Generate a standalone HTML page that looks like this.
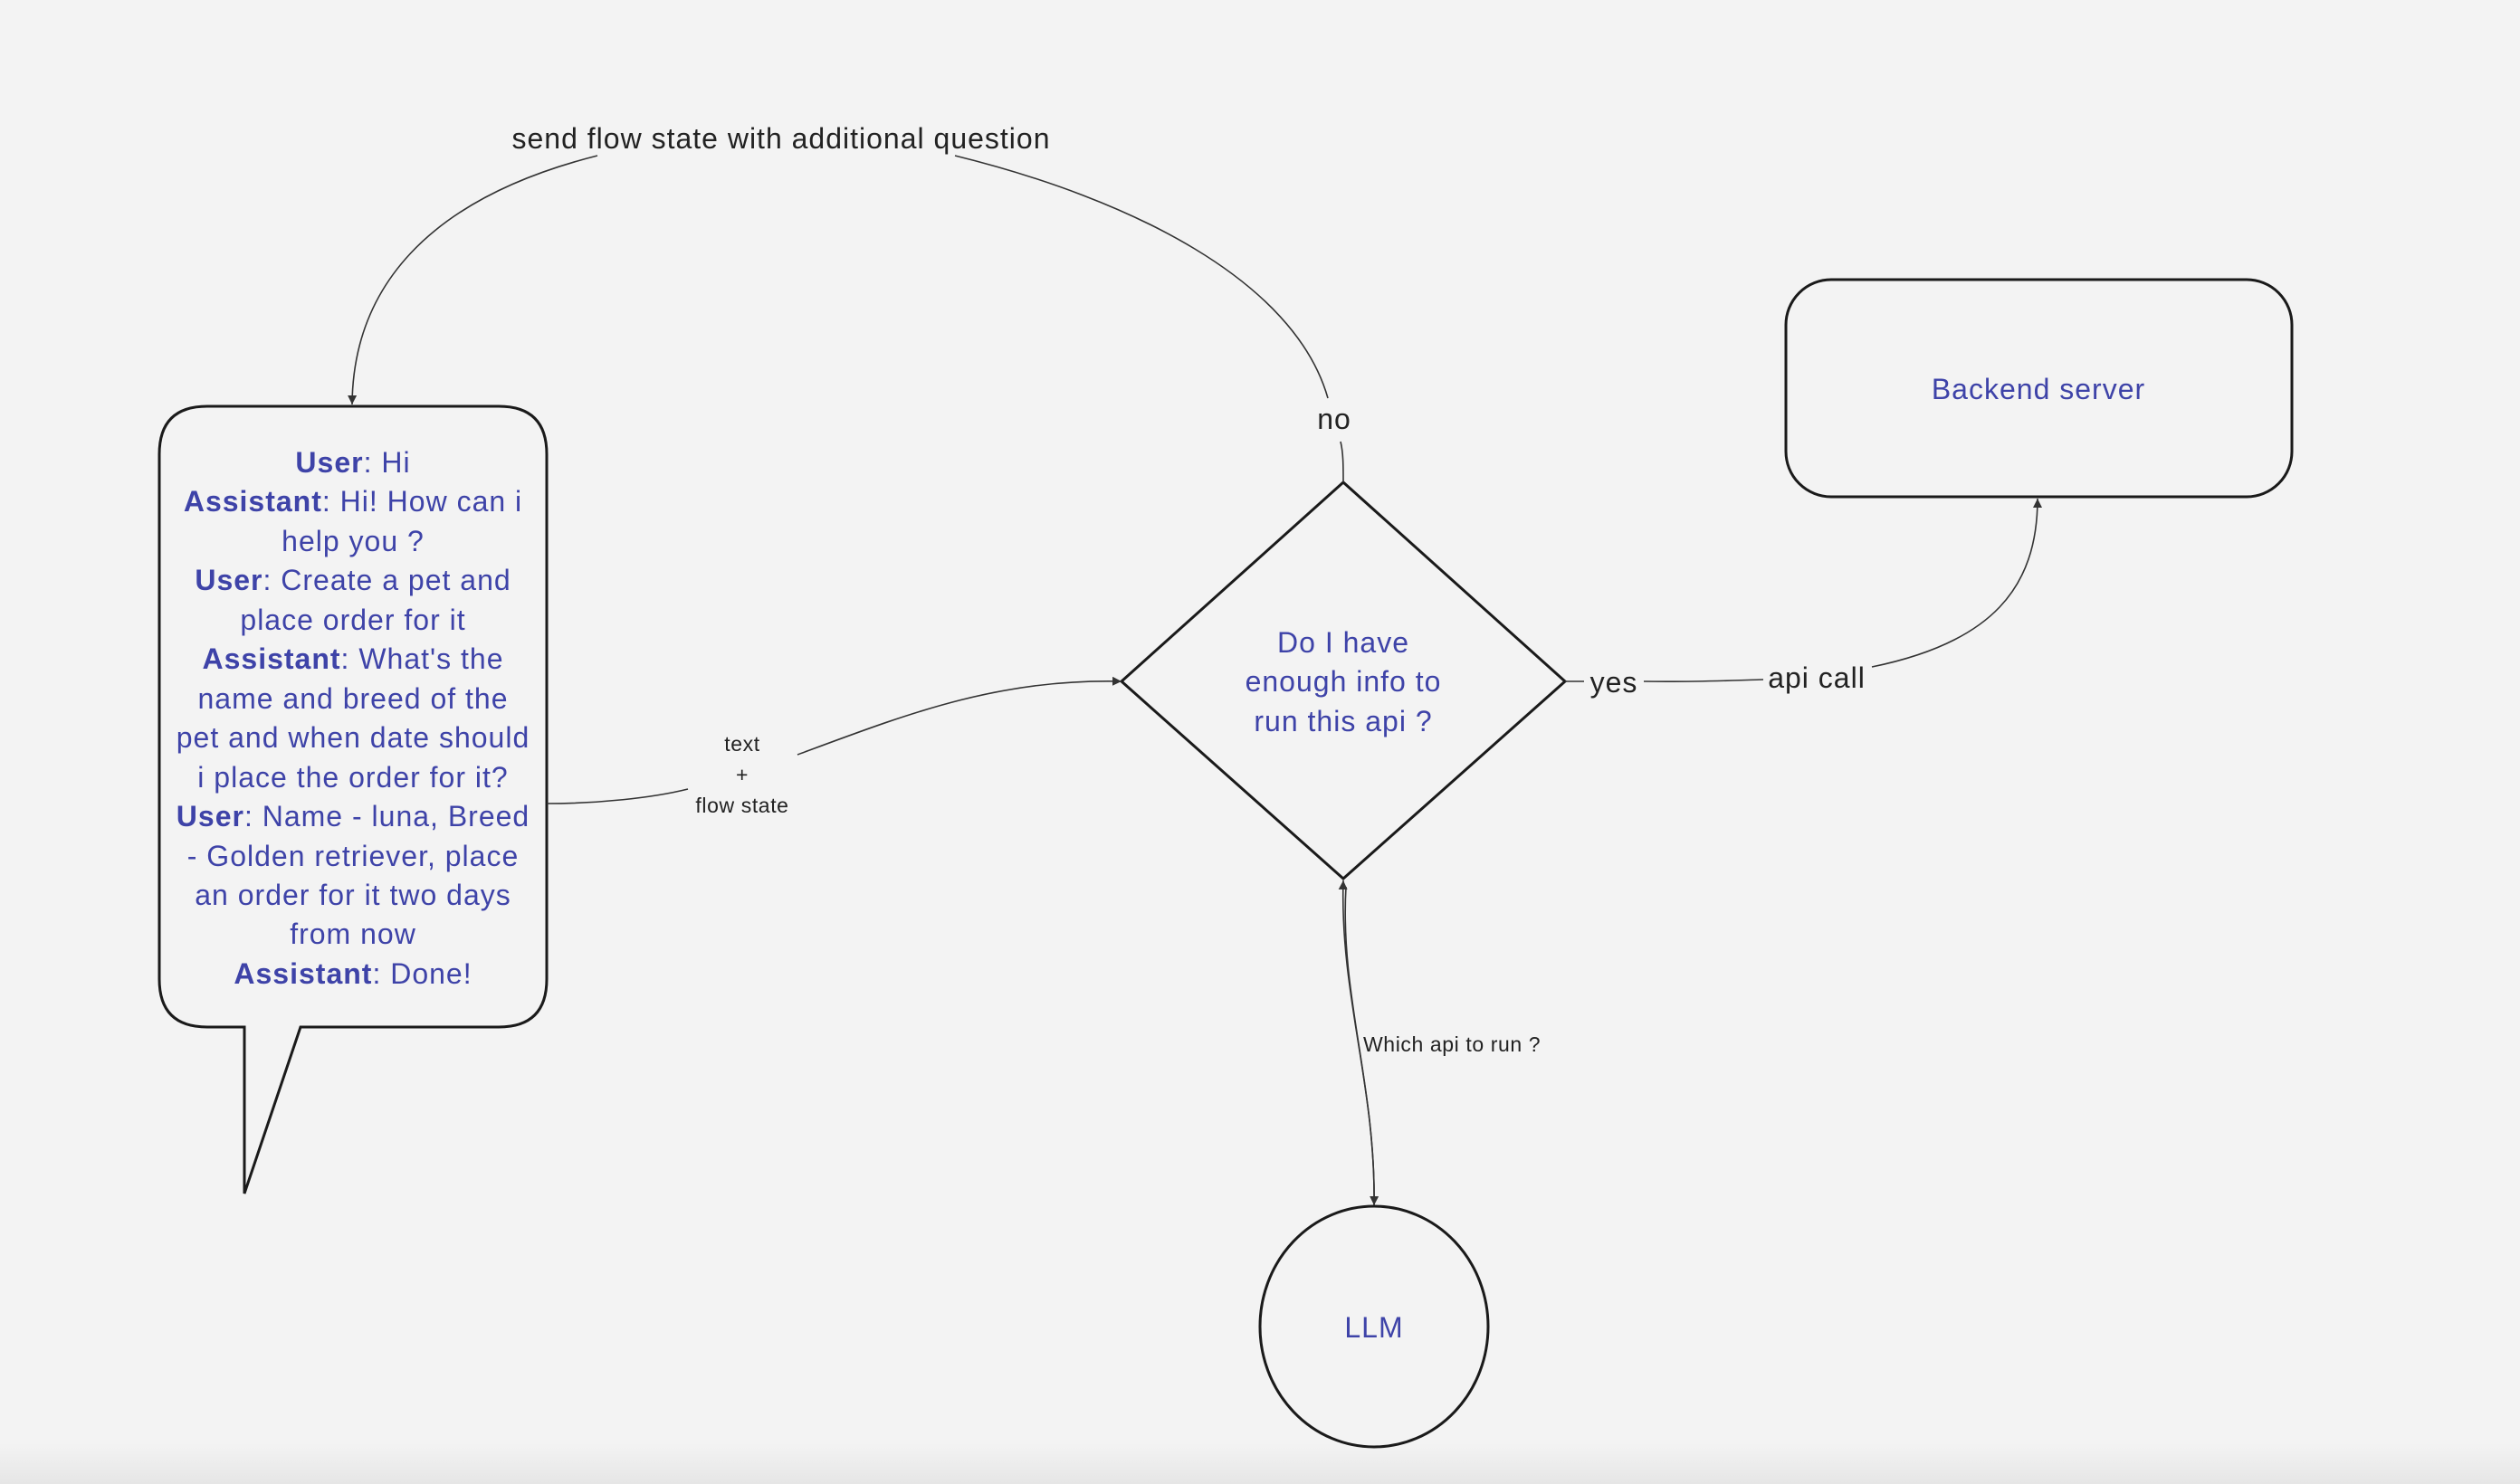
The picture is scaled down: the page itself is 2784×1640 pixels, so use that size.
<!DOCTYPE html>
<html><head><meta charset="utf-8"><style>
html,body{margin:0;padding:0;background:#f3f3f3;}
svg{display:block;}
text{font-family:"Liberation Sans",sans-serif;letter-spacing:1px;}
.sm{letter-spacing:0.6px;}
</style></head><body>
<svg width="2784" height="1640" viewBox="0 0 2784 1640" xmlns="http://www.w3.org/2000/svg">
<defs>
<linearGradient id="bg" x1="0" y1="0" x2="0" y2="1">
<stop offset="0" stop-color="#f3f3f3"/><stop offset="1" stop-color="#e6e6e6"/>
</linearGradient>
<marker id="ar" markerWidth="12" markerHeight="12" refX="10" refY="5" orient="auto" markerUnits="userSpaceOnUse">
<path d="M0,0 L10,5 L0,10 z" fill="#333"/>
</marker>
</defs>
<rect width="2784" height="1640" fill="#f3f3f3"/>
<rect y="1595" width="2784" height="45" fill="url(#bg)"/>

<path d="M229,449 H551 Q604,449 604,502 V1082 Q604,1135 551,1135 H332 L270,1319 V1135 H229 Q176,1135 176,1082 V502 Q176,449 229,449 Z" fill="none" stroke="#1a1a1a" stroke-width="3"/>
<g font-size="32" fill="#3e43a8" text-anchor="middle">
<text x="390" y="522"><tspan font-weight="bold">User</tspan>: Hi</text>
<text x="390" y="565"><tspan font-weight="bold">Assistant</tspan>: Hi! How can i</text>
<text x="390" y="609">help you ?</text>
<text x="390" y="652"><tspan font-weight="bold">User</tspan>: Create a pet and</text>
<text x="390" y="696">place order for it</text>
<text x="390" y="739"><tspan font-weight="bold">Assistant</tspan>: What's the</text>
<text x="390" y="783">name and breed of the</text>
<text x="390" y="826">pet and when date should</text>
<text x="390" y="870">i place the order for it?</text>
<text x="390" y="913"><tspan font-weight="bold">User</tspan>: Name - luna, Breed</text>
<text x="390" y="957">- Golden retriever, place</text>
<text x="390" y="1000">an order for it two days</text>
<text x="390" y="1043">from now</text>
<text x="390" y="1087"><tspan font-weight="bold">Assistant</tspan>: Done!</text>
</g>

<path d="M1484,533 L1729,753 L1484,971 L1239,753 Z" fill="none" stroke="#1a1a1a" stroke-width="3"/>
<g font-size="32" fill="#3e43a8" text-anchor="middle">
<text x="1484" y="721">Do I have</text>
<text x="1484" y="764">enough info to</text>
<text x="1484" y="808">run this api ?</text>
</g>

<rect x="1973" y="309" width="559" height="240" rx="50" fill="none" stroke="#1a1a1a" stroke-width="3"/>
<text x="2252" y="441" font-size="32" fill="#3e43a8" text-anchor="middle">Backend server</text>

<ellipse cx="1518" cy="1466" rx="126" ry="133" fill="none" stroke="#1a1a1a" stroke-width="3"/>
<text x="1518" y="1478" font-size="32" fill="#3e43a8" text-anchor="middle">LLM</text>

<g fill="none" stroke="#333" stroke-width="1.6">
<path d="M660,172 C470,220 390,320 389,447" marker-end="url(#ar)"/>
<path d="M1055,172 C1250,220 1430,310 1467,440"/>
<path d="M1481,488 C1484,500 1484,515 1484,533"/>
<path d="M604,888 C660,888 720,882 760,872"/>
<path d="M881,834 C1000,790 1100,750 1239,753" marker-end="url(#ar)"/>
<path d="M1729,753 H1750"/>
<path d="M1816,753 C1870,754 1910,752 1948,751"/>
<path d="M2068,737 C2200,710 2251,650 2251,551" marker-end="url(#ar)"/>
<path d="M1487,980 C1480,1100 1520,1200 1518,1332" marker-end="url(#ar)"/>
<path d="M1518,1332 C1520,1200 1480,1100 1484,973" marker-end="url(#ar)"/>
</g>

<text x="863" y="164" font-size="32" fill="#222" text-anchor="middle">send flow state with additional question</text>
<text x="1474" y="474" font-size="32" fill="#222" text-anchor="middle">no</text>
<text x="1783" y="765" font-size="32" fill="#222" text-anchor="middle">yes</text>
<text x="2007" y="760" font-size="32" fill="#222" text-anchor="middle">api call</text>
<g font-size="23" fill="#222" text-anchor="middle" class="sm">
<text x="820" y="830" class="sm">text</text>
<text x="820" y="864" class="sm">+</text>
<text x="820" y="898" class="sm">flow state</text>
</g>
<text x="1506" y="1162" font-size="23" fill="#222" class="sm">Which api to run ?</text>
</svg>
</body></html>
